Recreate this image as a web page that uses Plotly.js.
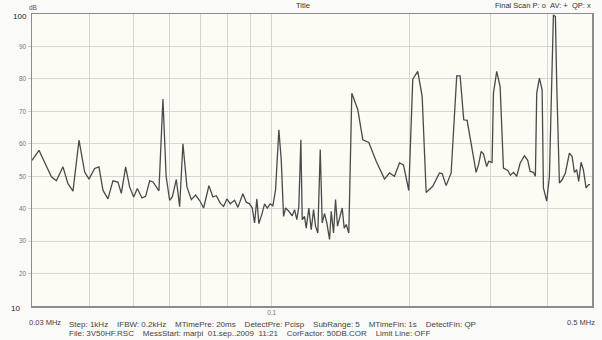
<!DOCTYPE html>
<html>
<head>
<meta charset="utf-8">
<script src="https://cdn.plot.ly/plotly-3.0.1.min.js"></script>
<style>html,body{margin:0;padding:0;background:#fafaf8;}#chart{width:602px;height:340px;}</style>
</head>
<body>
<div id="chart"></div>
<script>
// Frequency in MHz
const freqMHz = [0.03000,0.03107,0.03307,0.03391,0.03505,0.03594,0.03686,0.03799,0.03909,0.03994,
0.04110,0.04200,0.04285,0.04393,0.04505,0.04620,0.04699,0.04802,0.04899,0.05000,
0.05093,0.05212,0.05309,0.05418,0.05507,0.05676,0.05792,0.05885,0.05990,0.06071,
0.06195,0.06299,0.06404,0.06534,0.06680,0.06825,0.06964,0.07105,0.07297,0.07444,
0.07572,0.07725,0.07855,0.07986,0.08123,0.08301,0.08440,0.08654,0.08803,0.08950,
0.09072,0.09178,0.09284,0.09378,0.09539,0.09650,0.09782,0.09929,0.10061,0.10198,
0.10369,0.10494,0.10616,0.10724,0.10903,0.11090,0.11219,0.11349,0.11464,0.11581,
0.11661,0.11796,0.11897,0.12054,0.12200,0.12344,0.12467,0.12611,0.12765,0.12893,
0.13042,0.13196,0.13376,0.13490,0.13647,0.13786,0.13923,0.14064,0.14254,0.14399,
0.14546,0.14735,0.14840,0.14960,0.15418,0.15809,0.16293,0.16909,0.17629,0.18077,
0.18536,0.19006,0.19391,0.19917,0.20320,0.20835,0.21301,0.21733,0.22466,0.23234,
0.23551,0.24028,0.24638,0.25340,0.25776,0.26249,0.26701,0.27380,0.27934,0.28303,
0.28644,0.28982,0.29460,0.29759,0.30271,0.30473,0.30983,0.31515,0.32042,0.32743,
0.33184,0.33692,0.34256,0.34845,0.35607,0.36203,0.36639,0.37252,0.37623,0.37875,
0.38393,0.38918,0.39170,0.39825,0.40369,0.40921,0.41186,0.41605,0.41874,0.42446,
0.43027,0.43746,0.44632,0.45242,0.45766,0.46296,0.46767,0.47331,0.47879,0.48534,
0.49175,0.49515];
// Level in dB
const levelDB = [54.9,58.0,49.8,48.6,52.9,47.7,45.4,61.1,51.3,49.1,
52.4,52.9,45.7,43.0,48.6,48.2,44.7,52.9,46.7,43.6,
46.2,43.3,43.8,48.6,48.3,45.5,73.8,50.0,42.6,43.6,
49.0,40.6,60.0,46.7,42.8,44.2,42.5,40.2,47.1,43.6,
44.0,41.7,40.7,43.0,41.5,42.6,40.4,44.6,42.0,41.5,
40.2,35.6,43.0,35.4,38.7,41.5,40.2,41.5,40.9,45.8,
64.3,55.1,37.6,40.2,39.2,37.8,39.7,36.6,40.7,61.2,
36.6,37.6,34.0,40.2,33.5,39.7,34.6,32.5,58.2,35.6,
38.5,35.6,30.5,39.2,32.5,42.8,34.6,36.8,40.2,34.0,
35.1,32.5,55.0,75.6,70.5,61.2,60.4,54.6,49.1,51.0,
50.0,54.1,53.5,45.6,79.9,82.3,74.6,45.0,46.9,51.0,
50.8,47.1,51.0,80.9,80.9,67.4,67.2,58.2,51.2,53.8,
57.6,56.9,53.0,54.6,54.3,75.6,82.3,77.6,52.5,51.8,
50.3,51.2,50.0,54.0,56.3,54.9,51.5,51.2,50.0,75.6,
80.2,76.6,46.4,42.3,50.0,83.8,99.7,99.2,78.7,47.9,
48.9,51.0,57.1,56.1,51.2,52.0,48.4,54.3,52.0,46.4,
47.4,47.4];

const xGridVals = [0.04,0.05,0.06,0.07,0.08,0.09,0.1,0.2,0.3,0.4];
const xGridText = ['','','','','','','0.1','','',''];
const yTickVals = [20,30,40,50,60,70,80,90];
const yTickText = ['20','30','40','50','60','70','80','90'];

const row1 = 'Step: 1kHz    IFBW: 0.2kHz    MTimePre: 20ms    DetectPre: Pcisp    SubRange: 5    MTimeFin: 1s    DetectFin: QP';
const row2 = 'File: 3V50HF.RSC    MessStart: marþi  01.sep..2009  11:21    CorFactor: 50DB.COR    Limit Line: OFF';

// pixel helpers for text placement
const L = 32, R = 592, T = 14, B = 306;
const px = v => (v - L) / (R - L);
const py = v => (B - v) / (B - T);
const nb = s => s.replace(/ /g, '\u00a0');
const FONT = 'Liberation Sans, Arial, sans-serif';

const ann = (text, x, y, xa, size, color, extra) => Object.assign({
  text: nb(text), xref: 'paper', yref: 'paper', x: px(x), y: py(y),
  xanchor: xa, yanchor: 'middle', showarrow: false,
  font: {family: FONT, size: size, color: color}, borderpad: 0
}, extra || {});

const trace = {
  x: freqMHz, y: levelDB, type: 'scatter', mode: 'lines',
  line: {color: '#4a4a4a', width: 1.3}, hoverinfo: 'skip'
};

const layout = {
  width: 602, height: 340,
  margin: {l: L, r: 602 - R, t: T, b: 340 - B},
  paper_bgcolor: '#fafaf8', plot_bgcolor: '#fcfcf4',
  showlegend: false,
  xaxis: {
    type: 'log', range: [Math.log10(0.03), Math.log10(0.5)],
    tickmode: 'array', tickvals: xGridVals, ticktext: xGridText,
    showgrid: true, gridcolor: '#d6d6d6', gridwidth: 1,
    showline: true, linecolor: '#8c8c8c', linewidth: 1.5, mirror: true,
    ticks: '', zeroline: false,
    tickfont: {family: FONT, size: 6.5, color: '#777'}
  },
  yaxis: {
    range: [10, 100], tickmode: 'array', tickvals: yTickVals, ticktext: yTickText,
    showgrid: true, gridcolor: '#d6d6d6', gridwidth: 1,
    showline: true, linecolor: '#8c8c8c', linewidth: 1.5, mirror: true,
    ticks: 'outside', ticklen: 3, tickcolor: '#cfcfcf',
    zeroline: false,
    tickfont: {family: FONT, size: 6.5, color: '#777'}
  },
  annotations: [
    ann('dB', 28, 7, 'left', 6.5, '#555'),
    ann('100', 28, 16, 'right', 8, '#222'),
    ann('10', 21, 308, 'right', 8, '#222'),
    ann('0.03 MHz', 28, 322, 'left', 7.5, '#444'),
    ann('0.5 MHz', 596, 322, 'right', 7.5, '#444'),
    ann('Title', 303, 6, 'center', 7.5, '#333'),
    ann('Final Scan P: o  AV: +  QP: x', 592, 6, 'right', 7.5, '#333'),
    ann(row1, 68, 324, 'left', 8, '#444'),
    ann(row2, 68, 333, 'left', 8, '#444')
  ]
};

Plotly.newPlot('chart', [trace], layout, {staticPlot: true, displayModeBar: false});
</script>
</body>
</html>
